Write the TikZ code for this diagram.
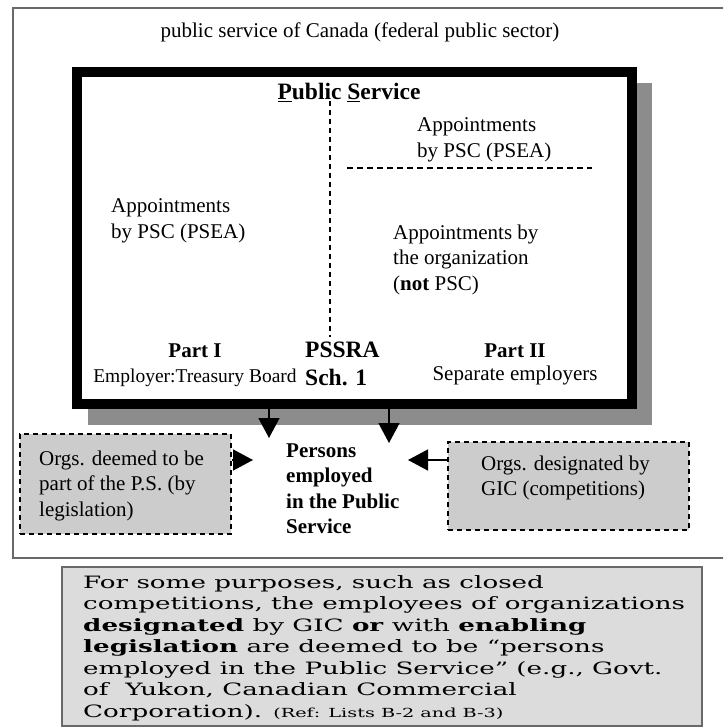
\documentclass[tikz,border=0pt]{standalone}
\usepackage{fontspec}
\usepackage{graphicx}
\setmainfont{Liberation Serif}
\newfontfamily\notefont{DejaVu Serif}
\usetikzlibrary{arrows.meta}
\definecolor{shadowgray}{RGB}{140,140,140}
\definecolor{boxgray}{RGB}{204,204,204}
\definecolor{notegray}{RGB}{220,220,220}
\definecolor{framegray}{RGB}{105,105,105}
\begin{document}
\begin{tikzpicture}[x=1pt,y=-1pt,
  txt/.style={inner sep=0pt, font=\fontsize{21}{25.5}\selectfont, align=left},
  btxt/.style={txt, font=\fontsize{21}{25.5}\selectfont\bfseries},
  bigtxt/.style={txt, font=\fontsize{23.5}{28}\selectfont\bfseries},
  bigarrow/.style={-{Triangle[length=20pt,width=21pt]}, line width=1.5pt},
  dashbox/.style={draw, line width=1.5pt, dash pattern=on 5pt off 4pt, fill=boxgray, inner sep=0pt},
  divider/.style={line width=1.2pt, dash pattern=on 6pt off 4pt}]
\useasboundingbox (0,0) rectangle (723,727);
\clip (0,0) rectangle (723,727);
% outer frame (federal public sector)
\draw[framegray, line width=2pt] (13,8) rectangle (745,558);
\node[txt, anchor=base] (title) at (360,38) {public service of Canada (federal public sector)};
% shadow and thick box
\fill[shadowgray] (88,83) rectangle (652,425);
\node[draw, line width=10pt, fill=white, minimum width=555pt, minimum height=332pt, inner sep=0pt] (ps) at (354.5,238) {};
\node[bigtxt, anchor=base] (pstitle) at (349,100) {\underline{P}ublic \underline{S}ervice};
% dividers
\coordinate (vtop) at (330,101);
\coordinate (vbot) at (330,337);
\draw[divider, dash pattern=on 5pt off 4pt] (vtop) -- (vbot);
\coordinate (hl) at (347,168);
\coordinate (hr) at (592,168);
\draw[divider] (hl) -- (hr);
% texts inside (base anchor = baseline of the last line)
\node[txt, anchor=base west] (apr) at (417,157.5) {Appointments\\by PSC (PSEA)};
\node[txt, anchor=base west] (apl) at (111,238.5) {Appointments\\by PSC (PSEA)};
\node[txt, anchor=base west] (aporg) at (393,290) {Appointments by\\the organization\\(\textbf{not} PSC)};
\node[btxt, anchor=base] (p1) at (195,357) {Part I};
\node[txt, anchor=base, font=\fontsize{19.5}{25.5}\selectfont] (p1e) at (195,382) {Employer:Treasury Board};
\node[bigtxt, anchor=base west] (pssra) at (305,385) {PSSRA\\Sch. 1};
\node[btxt, anchor=base] (p2) at (515,357) {Part II};
\node[txt, anchor=base] (p2e) at (515,380) {Separate employers};
% persons
\node[btxt, anchor=base west] (persons) at (286,533.5) {Persons\\employed\\in the Public\\Service};
% side boxes
\node[dashbox, minimum width=211pt, minimum height=100pt] (lbox) at (125.5,484) {};
\node[txt, anchor=base west] (ltext) at (39,516) {Orgs. deemed to be\\part of the P.S. (by\\legislation)};
\node[dashbox, minimum width=241pt, minimum height=88pt] (rbox) at (568.5,486) {};
\node[txt, anchor=base west] (rtext) at (481,495.5) {Orgs. designated by\\GIC (competitions)};
% arrows
\coordinate (tipA) at (269,438);
\coordinate (tipB) at (389,443);
\coordinate (tipC) at (253,460);
\coordinate (tipD) at (408,460);
\draw[bigarrow] (ps.south -| tipA) -- (tipA);
\draw[bigarrow] (ps.south -| tipB) -- (tipB);
\draw[bigarrow] (lbox.east |- tipC) -- (tipC);
\draw[bigarrow] (rbox.west |- tipD) -- (tipD);
% note
\draw[framegray, line width=1.5pt, fill=notegray] (62,567) rectangle (702,726);
\node[inner sep=0pt, anchor=base west] (note) at (83,588) {\notefont\fontsize{17}{21.5}\selectfont\scalebox{1.54}[1]{\begin{tabular}[t]{@{}l@{}}
For some purposes, such as closed\\
competitions, the employees of organizations\\
\textbf{designated} by GIC \textbf{or} with \textbf{enabling}\\
\textbf{legislation} are deemed to be “persons\\
employed in the Public Service” (e.g., Govt.\\
of\ \ Yukon, Canadian Commercial\\
Corporation). {\fontsize{12.5}{21.5}\selectfont (Ref: Lists B-2 and B-3)}
\end{tabular}}};
\end{tikzpicture}
\end{document}
